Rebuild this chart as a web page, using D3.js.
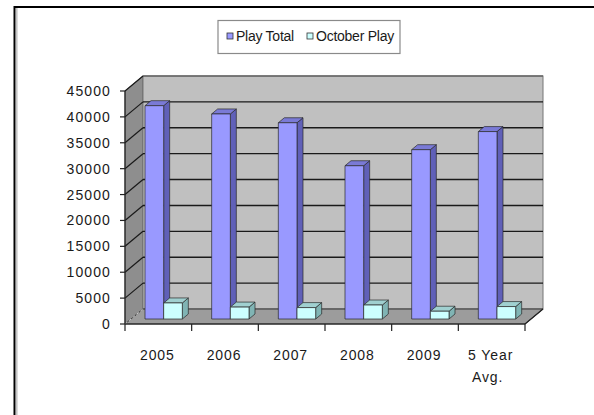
<!DOCTYPE html>
<html><head><meta charset="utf-8">
<script src="https://cdn.jsdelivr.net/npm/d3@7"></script>
<style>
html,body{margin:0;padding:0;background:#fff;}
svg{display:block;}
text{font-family:"Liberation Sans",Arial,sans-serif;fill:#1a1a1a;}
</style></head>
<body>
<svg id="c" width="594" height="415"></svg>
<script>
const categories = ["2005","2006","2007","2008","2009","5 Year|Avg."];
const seriesNames = ["Play Total","October Play"];
const playTotal = [41200, 39600, 37900, 29600, 32700, 36200];
const octoberPlay = [3100, 2300, 2200, 2700, 1500, 2400];
const yTicks = [0,5000,10000,15000,20000,25000,30000,35000,40000,45000];

const faceColors = [
  {front:"#9999ff", side:"#6060b8", top:"#7a7ad6"},
  {front:"#ccffff", side:"#80b4b4", top:"#a0d0d0"}
];

const svg = d3.select("#c");
// outer frame (clipped)
svg.append("line").attr("x1",14.5).attr("x2",594).attr("y1",7).attr("y2",7).attr("stroke","#000").attr("stroke-width",2);
svg.append("line").attr("x1",14.5).attr("x2",14.5).attr("y1",6).attr("y2",415).attr("stroke","#000").attr("stroke-width",2);
svg.append("line").attr("x1",16.8).attr("x2",16.8).attr("y1",8).attr("y2",415).attr("stroke","#c4c4c4").attr("stroke-width",1.6);

const DX = 18, DY = -15;          // wall depth
const x0 = 125, x1 = 525;
const y = d3.scaleLinear().domain([0,45000]).range([324,91]);
const x = d3.scaleBand().domain(categories).range([x0,x1]).padding(0);
const sub = d3.scaleBand().domain(seriesNames).range([0.21*x.bandwidth(), 0.77*x.bandwidth()]).padding(0);

const g = svg.append("g");
// side wall
g.append("path").attr("d",`M${x0},${y(45000)}L${x0+DX},${y(45000)+DY}L${x0+DX},${y(0)+DY}L${x0},${y(0)}Z`)
  .attr("fill","#8e8e8e").attr("stroke","#555").attr("stroke-width",0.8);
// back wall
g.append("rect").attr("x",x0+DX).attr("y",y(45000)+DY).attr("width",x1-x0).attr("height",y(0)-y(45000))
  .attr("fill","#c0c0c0").attr("stroke","#777").attr("stroke-width",1);
// floor
g.append("path").attr("d",`M${x0},${y(0)}L${x1},${y(0)}L${x1+DX},${y(0)+DY}L${x0+DX},${y(0)+DY}Z`)
  .attr("fill","#9c9c9c").attr("stroke","#333").attr("stroke-width",1);

// gridlines
yTicks.filter(t=>t>0).forEach(t=>{
  g.append("line").attr("x1",x0+DX).attr("x2",x1+DX).attr("y1",y(t)+DY).attr("y2",y(t)+DY)
    .attr("stroke", t===45000?"#666":"#1a1a1a").attr("stroke-width",1.4);
  g.append("line").attr("x1",x0).attr("x2",x0+DX).attr("y1",y(t)).attr("y2",y(t)+DY)
    .attr("stroke","#1a1a1a").attr("stroke-width",1.2);
});
g.append("line").attr("x1",x0).attr("x2",x0+DX).attr("y1",y(0)).attr("y2",y(0)+DY)
  .attr("stroke","#d0d0d0").attr("stroke-width",1).attr("stroke-dasharray","3,2");

// bars
const bdx = 6, bdy = -5;
const offX = 6, offY = -5;
const series = [playTotal, octoberPlay];
categories.forEach((c,i)=>{
  series.forEach((vals,s)=>{
    const v = vals[i];
    const xl = x(c) + sub(seriesNames[s]) + offX;
    const w = sub.bandwidth();
    const yb = y(0) + offY, yt = y(v) + offY;
    const col = faceColors[s];
    const bg = g.append("g").attr("stroke","#2a2a2a").attr("stroke-width",0.7).attr("stroke-linejoin","round");
    bg.append("path").attr("d",`M${xl+w},${yt}L${xl+w+bdx},${yt+bdy}L${xl+w+bdx},${yb+bdy}L${xl+w},${yb}Z`).attr("fill",col.side);
    bg.append("path").attr("d",`M${xl},${yt}L${xl+bdx},${yt+bdy}L${xl+w+bdx},${yt+bdy}L${xl+w},${yt}Z`).attr("fill",col.top);
    bg.append("rect").attr("x",xl).attr("y",yt).attr("width",w).attr("height",yb-yt).attr("fill",col.front);
  });
});

// y axis
g.append("line").attr("x1",x0).attr("x2",x0).attr("y1",y(45000)).attr("y2",y(0)).attr("stroke","#222").attr("stroke-width",1.2);
yTicks.forEach(t=>{
  g.append("line").attr("x1",x0-5).attr("x2",x0).attr("y1",y(t)).attr("y2",y(t)).attr("stroke","#222").attr("stroke-width",1.2);
  g.append("text").attr("x",111).attr("y",y(t)+5).attr("text-anchor","end")
    .attr("font-size",14).attr("letter-spacing",1.1).text(t);
});
// x axis
g.append("line").attr("x1",x0).attr("x2",x1).attr("y1",y(0)).attr("y2",y(0)).attr("stroke","#222").attr("stroke-width",1.2);
g.append("line").attr("x1",x1).attr("x2",x1+DX).attr("y1",y(0)).attr("y2",y(0)+DY).attr("stroke","#222").attr("stroke-width",1.2);
categories.concat([null]).forEach((c,i)=>{
  const xx = c===null ? x1 : x(c);
  g.append("line").attr("x1",xx).attr("x2",xx).attr("y1",y(0)).attr("y2",y(0)+7).attr("stroke","#222").attr("stroke-width",1.2);
});
categories.forEach(c=>{
  const lines = c.split("|");
  const t = g.append("text").attr("text-anchor","middle").attr("font-size",14).attr("letter-spacing",0.9);
  lines.forEach((ln,k)=>{
    t.append("tspan").attr("x", x(c)+x.bandwidth()/2 - 1 - (lines.length>1 && k===1 ? 3 : 0)).attr("y",360+k*22).text(ln);
  });
});

// legend
const lg = svg.append("g");
lg.append("rect").attr("x",218).attr("y",20.5).attr("width",182).attr("height",33).attr("fill","#fff").attr("stroke","#8a8a8a").attr("stroke-width",1.2);
const legX = [227, 307];
seriesNames.forEach((n,s)=>{
  lg.append("rect").attr("x",legX[s]).attr("y",33).attr("width",6).attr("height",6)
    .attr("fill",faceColors[s].front).attr("stroke","#333").attr("stroke-width",0.8);
  lg.append("text").attr("x",legX[s]+9).attr("y",41).attr("font-size",14).attr("letter-spacing",-0.25).text(n);
});
</script>
</body></html>
